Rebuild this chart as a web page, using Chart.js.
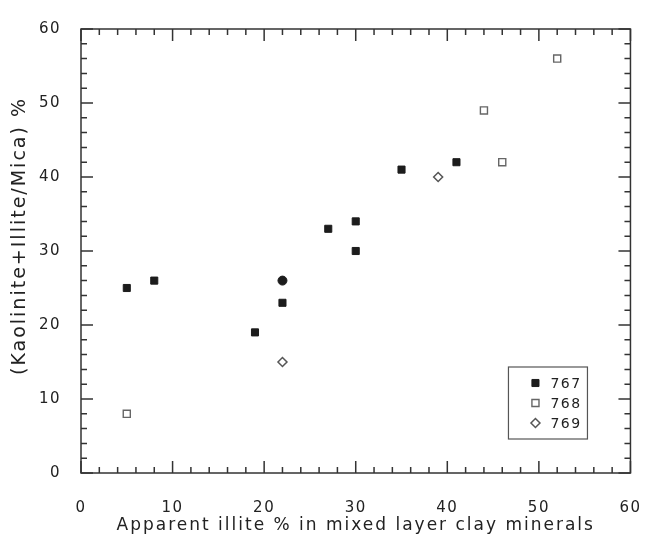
<!DOCTYPE html>
<html>
<head>
<meta charset="utf-8">
<script src="https://cdn.jsdelivr.net/npm/chart.js@4.4.1/dist/chart.umd.min.js"></script>
<style>
html,body{margin:0;padding:0;background:#fff;}
#wrap{width:666px;height:541px;}
</style>
</head>
<body>
<div id="wrap"><canvas id="c" width="666" height="541"></canvas></div>
<script>
// ---- data ----
const xTickValues = [0, 10, 20, 30, 40, 50, 60];
const yTickValues = [0, 10, 20, 30, 40, 50, 60];

const site767X = [5, 8, 19, 22, 27, 30, 30, 35, 41];
const site767Y = [25, 26, 19, 23, 33, 34, 30, 41, 42];

const site767CircleX = [22];
const site767CircleY = [26];

const site768X = [5, 44, 46, 52];
const site768Y = [8, 49, 42, 56];

const site769X = [22, 39];
const site769Y = [15, 40];

const legendLabels = ['767', '768', '769'];

const xTitle = 'Apparent illite % in mixed layer clay minerals';
const yTitle = '(Kaolinite+Illite/Mica) %';

// ---- helpers ----
const zip = (xs, ys) => xs.map((x, i) => ({x: x, y: ys[i]}));
const FONT = '"DejaVu Sans", "Liberation Sans", sans-serif';
const INK = '#222222';

const framePlugin = {
  id: 'frame',
  afterLayout(chart) {
    // move the y-axis title slightly upward, as in the reference
    const ys = chart.scales.y;
    ys.top -= 15;
    ys.bottom -= 15;
  },
  beforeDraw(chart) { chart.ctx.letterSpacing = '2px'; },
  beforeDatasetsDraw(chart) { chart.ctx.letterSpacing = '1.5px'; },
  afterDraw(chart) {
    const ctx = chart.ctx;
    const a = chart.chartArea;
    const xs = chart.scales.x, ys = chart.scales.y;
    ctx.save();
    ctx.letterSpacing = '0px';
    ctx.strokeStyle = '#333';
    ctx.lineWidth = 1.5;
    ctx.strokeRect(a.left, a.top, a.right - a.left, a.bottom - a.top);
    ctx.beginPath();
    for (let v = xs.min; v <= xs.max; v += 2) {
      const p = xs.getPixelForValue(v);
      const len = (v % 10 === 0) ? 12 : 6;
      ctx.moveTo(p, a.bottom); ctx.lineTo(p, a.bottom - len);
      ctx.moveTo(p, a.top); ctx.lineTo(p, a.top + len);
    }
    for (let v = ys.min; v <= ys.max; v += 2) {
      const p = ys.getPixelForValue(v);
      const len = (v % 10 === 0) ? 12 : 6;
      ctx.moveTo(a.left, p); ctx.lineTo(a.left + len, p);
      ctx.moveTo(a.right, p); ctx.lineTo(a.right - len, p);
    }
    ctx.stroke();

    // legend box (inside plot, lower right)
    const bw = 79, bh = 72;
    const bx = a.right - 122, by = a.bottom - 106;
    ctx.lineWidth = 1.2;
    ctx.strokeStyle = '#555';
    ctx.fillStyle = '#fff';
    ctx.fillRect(bx, by, bw, bh);
    ctx.strokeRect(bx, by, bw, bh);
    ctx.font = '14px ' + FONT;
    ctx.letterSpacing = '1.5px';
    ctx.textAlign = 'left';
    ctx.textBaseline = 'middle';
    legendLabels.forEach((lab, i) => {
      const ds = chart.data.datasets.find(d => d.label === lab);
      const cy = by + 16 + i * 20;
      const cx = bx + 27;
      ctx.fillStyle = ds.backgroundColor;
      ctx.strokeStyle = ds.borderColor;
      ctx.lineWidth = ds.borderWidth;
      Chart.helpers.drawPoint(ctx, {pointStyle: ds.pointStyle, rotation: 0,
        radius: ds.pointRadius, borderWidth: ds.borderWidth}, cx, cy);
      ctx.fillStyle = INK;
      ctx.fillText(lab, bx + 42, cy + 1);
    });
    ctx.restore();
  }
};

new Chart(document.getElementById('c'), {
  type: 'scatter',
  data: {
    datasets: [
      {label: '767', data: zip(site767X, site767Y), pointStyle: 'rect', pointRadius: 5,
       backgroundColor: '#1c1c1c', borderColor: '#1c1c1c', borderWidth: 1},
      {label: '768', data: zip(site768X, site768Y), pointStyle: 'rect', pointRadius: 5,
       backgroundColor: '#ffffff', borderColor: '#666666', borderWidth: 1.4},
      {label: '769', data: zip(site769X, site769Y), pointStyle: 'rectRot', pointRadius: 4.5,
       backgroundColor: '#ffffff', borderColor: '#555555', borderWidth: 1.5},
      {label: '767 (circle)', data: zip(site767CircleX, site767CircleY), pointStyle: 'circle', pointRadius: 4.5,
       backgroundColor: '#1c1c1c', borderColor: '#1c1c1c', borderWidth: 1}
    ]
  },
  options: {
    responsive: false,
    animation: false,
    devicePixelRatio: 1,
    layout: {padding: {top: 19, right: 9, left: 0, bottom: 0}},
    plugins: {legend: {display: false}, tooltip: {enabled: false}},
    scales: {
      x: {
        type: 'linear', min: 0, max: 60,
        afterFit: (s) => { s.height = 68; },
        afterBuildTicks: (s) => { s.ticks = xTickValues.map(v => ({value: v})); },
        grid: {display: false, drawTicks: false},
        border: {display: false},
        ticks: {z: 1, padding: 26, color: INK, font: {family: FONT, size: 15}, maxRotation: 0, autoSkip: false},
        title: {display: true, text: xTitle, color: INK, font: {family: FONT, size: 17},
                padding: {top: 0, bottom: 5}}
      },
      y: {
        type: 'linear', min: 0, max: 60,
        afterFit: (s) => { s.width = 81; },
        afterBuildTicks: (s) => { s.ticks = yTickValues.map(v => ({value: v})); },
        grid: {display: false, drawTicks: false},
        border: {display: false},
        ticks: {z: 1, padding: 20, color: INK, font: {family: FONT, size: 15}},
        title: {display: true, text: yTitle, color: INK, font: {family: FONT, size: 19},
                padding: {top: 9, bottom: 0}}
      }
    }
  },
  plugins: [framePlugin]
});
</script>
</body>
</html>
